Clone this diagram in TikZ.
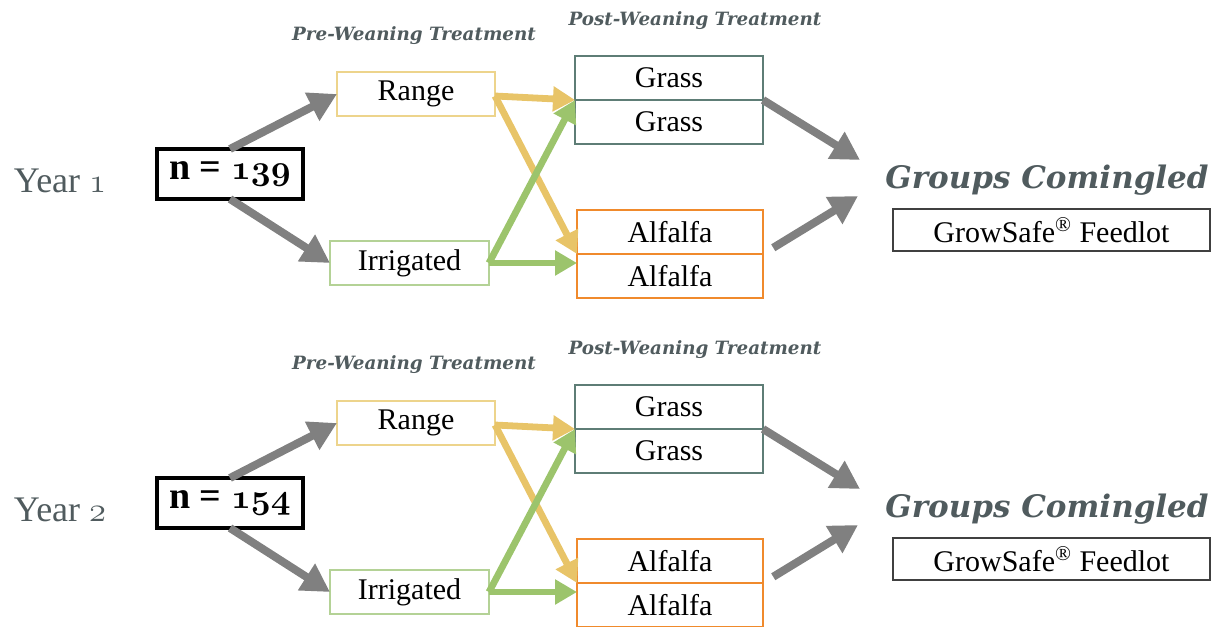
\documentclass[tikz,border=0pt]{standalone}
\usepackage{fontspec}
\setmainfont{Liberation Serif}
\newfontfamily\headfont{DejaVu Serif}
\usetikzlibrary{arrows.meta, positioning}

\definecolor{arrowgray}{HTML}{808080}
\definecolor{rangeyellow}{HTML}{E8C468}
\definecolor{rangeline}{HTML}{EDD48C}
\definecolor{irrgreen}{HTML}{9CC46C}
\definecolor{irrline}{HTML}{B4D296}
\definecolor{grassline}{HTML}{5E7D76}
\definecolor{alforange}{HTML}{F08A2C}
\definecolor{headgray}{HTML}{505B5E}

% old style digits
\newcommand{\osn}[1]{{\usefont{OML}{cmm}{m}{it}#1}}
\newcommand{\osnb}[1]{{\usefont{OML}{cmm}{b}{it}#1}}

\tikzset{
    box/.style = {draw, line width = 0.9pt, outer sep = 0pt, inner sep = 0pt,
        minimum height = 22pt, font = \fontsize{15}{17}\selectfont},
    grayarrow/.style = {arrowgray, line width = 4pt,
        -{Triangle[length = 14pt, width = 15pt]}},
    feedarrow/.style = {line width = 3.4pt, -{Triangle[length = 11pt, width = 12pt]}},
    heading/.style = {text = headgray, inner sep = 0pt,
        font = \headfont\fontsize{9.15}{11}\selectfont\bfseries\itshape},
}

\begin{document}
\begin{tikzpicture}[x = 0.5pt, y = -0.5pt]
    \useasboundingbox (0, 0) rectangle (1213, 626);

    \foreach \yr/\num/\dy in {1/139/0, 2/154/329} {
    \begin{scope}[shift = {(0, \dy)}]
        % labels
        \node [text = headgray, font = \fontsize{18}{20}\selectfont] (year\yr) at (60, 181) {Year \osn{\yr}};
        \node [heading] (pre\yr)  at (414, 36) {Pre-Weaning Treatment};
        \node [heading] (post\yr) at (695, 21) {Post-Weaning Treatment};
        \node [heading, font = \headfont\fontsize{15.5}{18}\selectfont\bfseries\itshape] (groups\yr) at (1047, 180) {Groups Comingled};

        % boxes
        \node [box, line width = 1.6pt, minimum width = 73pt, minimum height = 25pt,
            font = \fontsize{19}{21}\selectfont\bfseries] (n\yr) at (230, 174) {n = {\fontsize{18}{20}\selectfont\osnb{\num}}};
        \node [box, draw = rangeline, minimum width = 79pt] (range\yr) at (416, 94) {Range};
        \node [box, draw = irrline, minimum width = 79.5pt] (irr\yr) at (409.5, 263) {Irrigated};
        \node [box, draw = grassline, minimum width = 94pt] (grassA\yr) at (669, 78) {Grass};
        \node [box, draw = grassline, minimum width = 94pt, below = 0pt of grassA\yr] (grassB\yr) {Grass};
        \node [box, draw = alforange, minimum width = 93pt] (alfA\yr) at (670, 232) {Alfalfa};
        \node [box, draw = alforange, minimum width = 93pt, below = 0pt of alfA\yr] (alfB\yr) {Alfalfa};
        \node [box, draw = black!75, line width = 0.8pt, minimum width = 158.5pt, minimum height = 21pt]
            (feed\yr) at (1051.5, 230) {GrowSafe\textsuperscript{\textregistered} Feedlot};

        \coordinate (meetA\yr) at (860, 160);
        \coordinate (meetB\yr) at (858, 196);

        % arrows
        \draw [grayarrow] (n\yr.north) -- (range\yr.west);
        \draw [grayarrow] (n\yr.south) -- (irr\yr.west);

        \draw [feedarrow, rangeyellow] ([yshift = -1pt]range\yr.east) -- (grassA\yr.south west);
        \draw [feedarrow, rangeyellow] ([yshift = -1pt]range\yr.east) -- (alfB\yr.north west);
        \draw [feedarrow, irrgreen] (irr\yr.east) -- (grassB\yr.north west);
        \draw [feedarrow, irrgreen] (irr\yr.east) -- (irr\yr.east -| alfB\yr.west);

        \draw [grayarrow] (grassA\yr.south east) -- (meetA\yr);
        \draw [grayarrow, shorten < = 6pt] (alfA\yr.south east) -- (meetB\yr);
    \end{scope}
    }
\end{tikzpicture}
\end{document}
